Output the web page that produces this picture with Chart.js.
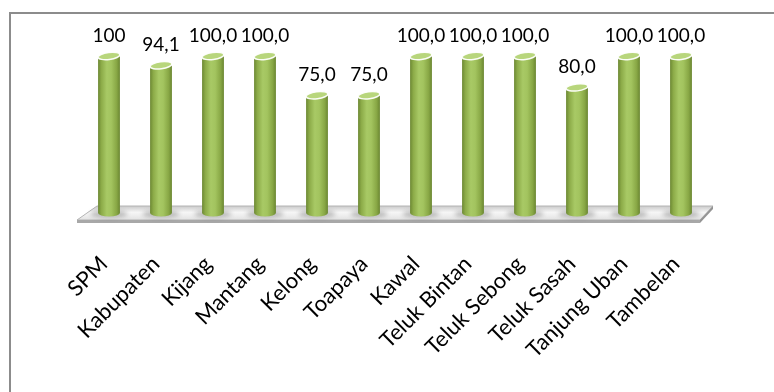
<!DOCTYPE html>
<html>
<head>
<meta charset="utf-8">
<script src="https://cdn.jsdelivr.net/npm/chart.js@4.4.0/dist/chart.umd.min.js"></script>
<style>
  body { margin:0; background:#fff; }
  #wrap { position:relative; width:774px; height:392px; overflow:hidden; }
  #bingkai { position:absolute; left:9px; top:12px; width:800px; height:400px; border-top:2px solid #8c8c8c; border-left:2px solid #8c8c8c; }
  canvas { position:absolute; left:0; top:0; }
</style>
</head>
<body>
<div id="wrap">
  <div id="bingkai"></div>
  <canvas id="grafik" width="774" height="392"></canvas>
</div>
<script>
var kategori = ['SPM','Kabupaten','Kijang','Mantang','Kelong','Toapaya','Kawal','Teluk Bintan','Teluk Sebong','Teluk Sasah','Tanjung Uban','Tambelan'];
var nilai = [100, 94.1, 100, 100, 75, 75, 100, 100, 100, 80, 100, 100];
var labelNilai = ['100','94,1','100,0','100,0','75,0','75,0','100,0','100,0','100,0','80,0','100,0','100,0'];

var persenBatang = 0.42;

function lebarBatang(chart){
    var x = chart.scales.x;
    return x.width / kategori.length * persenBatang;
}

function gradienBatang(chart, cx, w){
    var g = chart.ctx.createLinearGradient(cx - w/2, 0, cx + w/2, 0);
    g.addColorStop(0, '#6c8833');
    g.addColorStop(0.15, '#8cab48');
    g.addColorStop(0.4, '#a8c965');
    g.addColorStop(0.6, '#a3c45f');
    g.addColorStop(0.85, '#88a745');
    g.addColorStop(1, '#6a8631');
    return g;
}

function warnaSilinder(context){
    var chart = context.chart;
    var x = chart.scales.x;
    if (!x || !x.width || context.dataIndex === undefined){
        return '#9bbb59';
    }
    var cx = x.getPixelForValue(context.dataIndex);
    return gradienBatang(chart, cx, lebarBatang(chart));
}

var pluginSilinder = {
    id:'silinder',
    beforeDatasetsDraw: function(chart){
        var ctx = chart.ctx;
        var a = chart.chartArea;
        var b = a.bottom;
        ctx.save();
        // lantai 3D
        ctx.beginPath();
        ctx.moveTo(a.left + 14, b - 7);
        ctx.lineTo(a.right + 6, b - 7);
        ctx.lineTo(a.right - 7, b + 7);
        ctx.lineTo(a.left - 6, b + 7);
        ctx.closePath();
        var g = ctx.createLinearGradient(0, b - 7, 0, b + 7);
        g.addColorStop(0, '#c9c9c9');
        g.addColorStop(0.45, '#f6f6f6');
        g.addColorStop(1, '#e2e2e2');
        ctx.fillStyle = g;
        ctx.fill();
        ctx.strokeStyle = '#b4b4b4';
        ctx.lineWidth = 1;
        ctx.stroke();
        // sisi depan
        ctx.fillStyle = '#a8a8a8';
        ctx.fillRect(a.left - 6, b + 7, (a.right - 7) - (a.left - 6), 3);
        // sisi kanan
        ctx.beginPath();
        ctx.moveTo(a.right + 6, b - 7);
        ctx.lineTo(a.right - 7, b + 7);
        ctx.lineTo(a.right - 7, b + 10);
        ctx.lineTo(a.right + 6, b - 4);
        ctx.closePath();
        ctx.fillStyle = '#949494';
        ctx.fill();
        // bayangan batang
        var meta = chart.getDatasetMeta(0);
        ctx.filter = 'blur(2px)';
        ctx.fillStyle = 'rgba(0,0,0,0.22)';
        for (var i = 0; i < meta.data.length; i++){
            var bar = meta.data[i];
            ctx.beginPath();
            ctx.ellipse(bar.x, bar.base + 1, bar.width * 0.85, 4, 0, 0, Math.PI * 2);
            ctx.fill();
        }
        ctx.restore();
    },
    afterDatasetsDraw: function(chart){
        var ctx = chart.ctx;
        var meta = chart.getDatasetMeta(0);
        ctx.save();
        for (var i = 0; i < meta.data.length; i++){
            var bar = meta.data[i];
            var w = bar.width;
            // bawah silinder
            ctx.beginPath();
            ctx.ellipse(bar.x, bar.base, w/2, 3.5, 0, 0, Math.PI);
            ctx.fillStyle = gradienBatang(chart, bar.x, w);
            ctx.fill();
            // tutup atas
            ctx.beginPath();
            ctx.ellipse(bar.x, bar.y, w/2, 3.5, -0.12, 0, Math.PI * 2);
            ctx.fillStyle = '#b8d67c';
            ctx.fill();
            ctx.strokeStyle = 'rgba(255,255,255,0.95)';
            ctx.lineWidth = 1.5;
            ctx.stroke();
            // label nilai
            ctx.fillStyle = '#000';
            ctx.font = '19px Lato';
            ctx.textAlign = 'center';
            ctx.textBaseline = 'alphabetic';
            ctx.fillText(labelNilai[i], bar.x, bar.y - 14);
        }
        ctx.restore();
    }
};

var ctx = document.getElementById('grafik').getContext('2d');
var myChart = new Chart(ctx, {
    type:'bar',
    data:{
        labels:kategori,
        datasets:[{
            data:nilai,
            backgroundColor:warnaSilinder,
            borderWidth:0,
            barPercentage:persenBatang,
            categoryPercentage:1
        }]
    },
    options:{
        responsive:false,
        animation:false,
        layout:{
            padding:{left:83, right:67, top:56, bottom:0}
        },
        plugins:{
            legend:{display:false},
            tooltip:{enabled:false}
        },
        scales:{
            y:{display:false, min:0, max:100},
            x:{
                grid:{display:false, drawTicks:false},
                border:{display:false},
                ticks:{
                    minRotation:45,
                    maxRotation:45,
                    autoSkip:false,
                    padding:38,
                    labelOffset:-5,
                    color:'#000',
                    font:{family:'Lato', size:22}
                },
                afterFit:function(scale){
                    scale.height = 179;
                }
            }
        }
    },
    plugins:[pluginSilinder]
});
</script>
</body>
</html>
